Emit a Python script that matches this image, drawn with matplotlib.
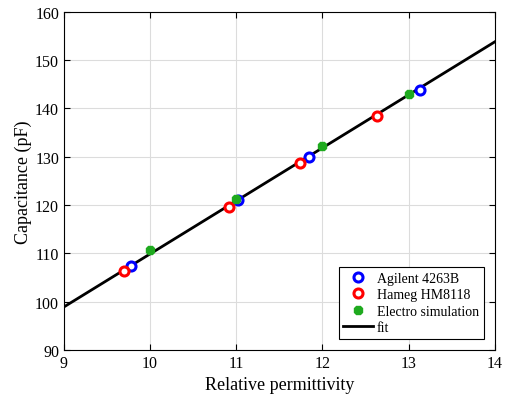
import matplotlib
matplotlib.use("Agg")
from matplotlib import pyplot as plt

plt.rcParams['font.family'] = ['Liberation Serif', 'DejaVu Serif']
plt.rcParams['mathtext.fontset'] = 'stix'

# measured data
agilent_x = [9.78, 11.02, 11.84, 13.13]
agilent_y = [107.3, 121.0, 129.9, 143.8]
hameg_x = [9.70, 10.91, 11.74, 12.63]
hameg_y = [106.4, 119.6, 128.8, 138.4]
electro_x = [10.0, 11.0, 12.0, 13.0]
electro_y = [110.6, 121.3, 132.2, 143.0]
fit_x = [9, 14]
fit_y = [98.9, 153.8]

fig = plt.figure(figsize=(5.07, 4.02), dpi=100)
ax = fig.add_axes([0.126, 0.127, 0.85, 0.841])

ax.plot(agilent_x, agilent_y, 'o', mfc='white', mec='#0000ff', mew=2.2, ms=6.5, label='Agilent 4263B', zorder=3)
ax.plot(hameg_x, hameg_y, 'o', mfc='white', mec='#ff0000', mew=2.2, ms=6.5, label='Hameg HM8118', zorder=3)
ax.plot(electro_x, electro_y, '8', color='#1faa1f', ms=6.5, label='Electro simulation', zorder=4)
ax.plot(fit_x, fit_y, '-', color='black', lw=2, label='fit', zorder=2)

ax.set_xlim(9, 14)
ax.set_ylim(90, 160)
ax.set_xticks([9, 10, 11, 12, 13, 14])
ax.set_yticks(range(90, 161, 10))
ax.grid(True, color='#dcdcdc', lw=0.8)
ax.set_axisbelow(True)
ax.tick_params(direction='in', labelsize=11.5, top=True, right=True, length=4)
for s in ax.spines.values():
    s.set_linewidth(0.8)

ax.set_xlabel('Relative permittivity', fontsize=13)
ax.set_ylabel('Capacitance (pF)', fontsize=13, labelpad=2)

leg = ax.legend(loc='lower right', fontsize=10, fancybox=False, framealpha=1,
                edgecolor='black', borderaxespad=0.8, handlelength=2.1,
                handletextpad=0.3, labelspacing=0.25, borderpad=0.35)
leg.get_frame().set_linewidth(0.8)

fig.savefig('out.png', dpi=100)
